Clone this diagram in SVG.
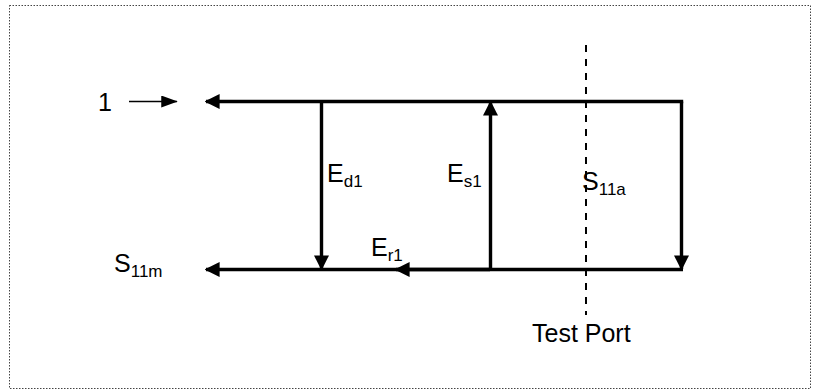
<svg xmlns="http://www.w3.org/2000/svg" width="813" height="391" viewBox="0 0 813 391">
<defs>
<marker id="ah" markerWidth="4.4" markerHeight="4.4" refX="4" refY="2.2" orient="auto" markerUnits="strokeWidth"><path d="M0,0 L4.4,2.2 L0,4.4 Z" fill="#000"/></marker>
<marker id="ahs" markerWidth="11" markerHeight="8" refX="10.5" refY="4" orient="auto" markerUnits="strokeWidth"><path d="M0,0 L11,4 L0,8 Z" fill="#000"/></marker>
<style>
.t{font-family:"Liberation Sans",Arial,sans-serif;font-size:25px;fill:#000}
.s{font-size:17px}
.w{stroke:#000;stroke-width:3.4;fill:none}
</style>
</defs>
<rect x="9.5" y="5.5" width="801" height="383" fill="none" stroke="#444" stroke-width="1" stroke-dasharray="1.5,1.5"/>
<g id="connectors">
<path class="w" d="M683.2,101.5 L206,101.5" marker-end="url(#ah)"/>
<path class="w" d="M681.5,101.5 L681.5,269" marker-end="url(#ah)"/>
<path class="w" d="M683,269.5 L206,269.5" marker-end="url(#ah)"/>
<path class="w" d="M490,269.5 L396,269.5" marker-end="url(#ah)"/>
<path class="w" d="M321.5,101.5 L321.5,269" marker-end="url(#ah)"/>
<path class="w" d="M490.5,269.5 L490.5,102" marker-end="url(#ah)"/>
<path d="M129,101.5 L177,101.5" stroke="#000" stroke-width="1.5" marker-end="url(#ahs)"/>
<path d="M586,45 L586,315" stroke="#000" stroke-width="2" stroke-dasharray="7,7"/>
</g>
<g id="input"><text class="t" x="98" y="111">1</text></g>
<g id="s11m"><text class="t" x="114" y="272">S<tspan class="s" dy="5">11m</tspan></text></g>
<g id="ed1"><text class="t" x="327" y="182">E<tspan class="s" dy="5">d1</tspan></text></g>
<g id="es1"><text class="t" x="447" y="182">E<tspan class="s" dy="5">s1</tspan></text></g>
<g id="er1"><text class="t" x="371" y="256">E<tspan class="s" dy="5">r1</tspan></text></g>
<g id="s11a"><text class="t" x="582" y="190">S<tspan class="s" dy="5">11a</tspan></text></g>
<g id="testport"><text class="t" x="532" y="342">Test Port</text></g>
</svg>
